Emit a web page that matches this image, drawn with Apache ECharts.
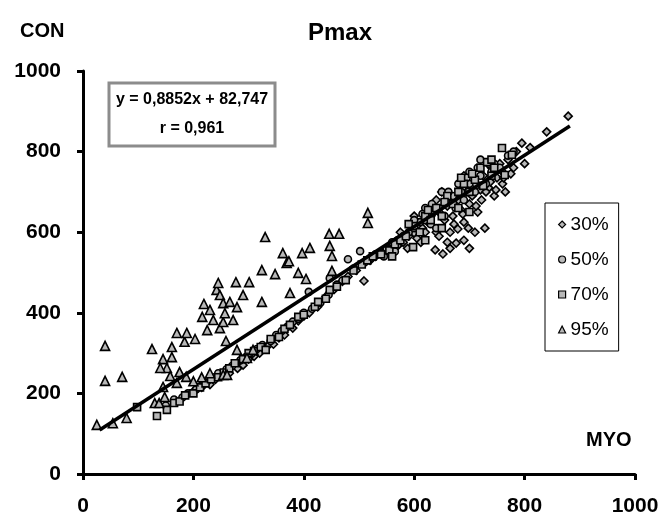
<!DOCTYPE html>
<html>
<head>
<meta charset="utf-8">
<title>Pmax</title>
<script src="https://cdn.jsdelivr.net/npm/echarts@6/dist/echarts.min.js"></script>
<style>
	html, body {margin: 0; padding: 0; background: #fff;}
	#main {width: 663px; height: 524px;}
</style>
</head>
<body>
<div id="main"></div>
<script>
// 数据 (MYO, CON)
var xTicks = [0, 200, 400, 600, 800, 1000];
var yTicks = [0, 200, 400, 600, 800, 1000];
var names = ['30%', '50%', '70%', '95%'];

var p30 = [[200,205],[215,215],[230,222],[240,235],[255,245],[265,250],[280,262],[290,270],[300,285],[310,292],
	[320,300],[335,318],[345,322],[355,338],[365,345],[380,362],[390,380],[400,392],[410,400],[425,415],
	[440,440],[455,458],[470,478],[480,490],[495,505],[509,479],[520,530],[530,540],[545,548],[555,556],
	[560,545],[570,566],[580,575],[590,590],[600,598],[605,585],[615,610],[620,600],[625,625],[630,640],
	[638,556],[640,600],[645,650],[652,546],[655,630],[660,665],[665,600],[670,640],[676,573],[679,608],
	[680,680],[685,655],[690,625],[695,700],[700,670],[705,690],[710,720],[715,650],[720,705],[725,740],
	[728,610],[735,710],[740,760],[745,690],[750,735],[755,770],[760,720],[765,700],[770,780],[775,745],
	[780,760],[785,800],[795,821],[800,770],[810,810],[840,849],[879,888],[690,580],[700,560],[665,560],
	[710,600],[730,700],[760,750],[600,640],[575,600],[640,680],[690,740],[650,700],[660,575],[645,590],
	[672,620],[688,645],[698,610],[712,665],[722,680],[738,725],[748,705],[762,735],[588,560],[612,575]];

var p50 = [[150,170],[165,185],[180,190],[190,200],[205,210],[215,220],[225,230],[235,240],[245,250],[260,260],
	[270,268],[285,282],[295,290],[305,298],[315,310],[325,320],[340,330],[350,345],[360,355],[370,365],
	[380,378],[390,385],[400,400],[409,452],[415,410],[430,425],[445,445],[447,486],[460,470],[470,480],
	[480,533],[490,510],[502,553],[510,525],[520,535],[530,545],[540,550],[550,560],[560,575],[570,580],
	[580,590],[590,600],[600,610],[610,625],[620,630],[630,620],[635,650],[645,660],[655,640],[660,680],
	[670,690],[675,660],[685,700],[690,680],[700,720],[710,700],[720,740],[730,720],[740,750],[745,770],
	[755,760],[770,790],[780,800],[620,660],[650,700],[700,750],[720,780],[600,630],[640,610],[680,720],
	[545,540],[565,552],[615,645],[632,670],[662,700],[695,735],[715,760],[735,770]];

var p70 = [[98,166],[134,144],[152,159],[165,176],[175,180],[185,195],[200,200],[212,215],[222,225],[232,235],
	[245,240],[255,252],[265,262],[275,275],[290,285],[300,300],[310,305],[322,315],[331,308],[340,335],
	[355,340],[365,360],[375,370],[390,390],[400,395],[420,415],[426,427],[440,435],[447,457],[460,465],
	[476,481],[490,505],[505,520],[515,530],[525,540],[540,545],[555,555],[565,570],[575,580],[585,590],
	[598,563],[600,615],[610,600],[620,640],[630,630],[640,660],[650,640],[660,690],[670,670],[680,700],
	[690,720],[700,700],[710,730],[720,760],[732,774],[740,740],[759,809],[764,742],[777,792],[650,610],
	[700,650],[620,580],[680,660],[740,780],[560,540],[590,620],[625,655],[655,675],[685,735],[705,745],
	[725,715],[745,760]];

var p95 = [[25,122],[40,318],[40,231],[54,126],[71,241],[79,139],[125,310],[130,176],[138,176],[145,285],
	[145,216],[148,191],[152,263],[140,263],[158,243],[161,315],[161,290],[170,350],[170,226],[175,253],
	[184,328],[187,241],[188,350],[203,335],[216,390],[219,422],[225,357],[230,407],[236,382],[242,457],
	[245,474],[248,444],[248,362],[254,424],[254,377],[254,246],[257,399],[259,330],[261,246],[266,427],
	[272,382],[277,476],[279,414],[279,308],[290,444],[297,288],[301,476],[308,308],[324,506],[324,427],
	[330,588],[348,496],[362,548],[369,524],[373,528],[375,449],[390,499],[397,548],[404,484],[411,561],
	[446,596],[447,566],[451,541],[451,504],[464,596],[516,648],[516,623],[200,230],[215,240],[230,250]];

// 回归线 y = 0,8852x + 82,747
var fitLine = [[30, 109.3], [882, 863.5]];

var font = 'Arial, "Liberation Sans", sans-serif';

var myChart = echarts.init(document.getElementById('main'));

function scatter(name, data, symbol, size) {
	return {
		name: name,
		type: 'scatter',
		data: data,
		symbol: symbol,
		symbolSize: size,
		itemStyle: {color: '#b8b8b8', borderColor: '#000', borderWidth: 1.6, opacity: 1}
	};
}

function plainLabel(v) {
	return String(v);
}

myChart.setOption({
	animation: false,
	title: {
		text: 'Pmax',
		left: 335,
		textAlign: 'center',
		top: 16,
		textStyle: {fontFamily: font, fontWeight: 'bold', fontSize: 24, color: '#000'}
	},
	grid: {left: 83, right: 28, top: 71, bottom: 50},
	legend: {
		data: names,
		orient: 'vertical',
		left: 545,
		top: 203,
		padding: [12, 10, 12, 13],
		itemGap: 16,
		itemWidth: 7,
		itemHeight: 7,
		itemStyle: {borderWidth: 1.2},
		borderColor: '#000',
		borderWidth: 1,
		backgroundColor: '#fff',
		textStyle: {fontFamily: font, fontSize: 19, color: '#000'}
	},
	xAxis: {
		type: 'value',
		min: xTicks[0],
		max: xTicks[xTicks.length - 1],
		interval: 200,
		splitLine: {show: false},
		axisLine: {onZero: false, lineStyle: {color: '#000', width: 3}},
		axisTick: {length: 6, lineStyle: {color: '#000', width: 3}},
		axisLabel: {margin: 22, formatter: plainLabel, fontFamily: font, fontWeight: 'bold', fontSize: 21, color: '#000'}
	},
	yAxis: {
		type: 'value',
		min: yTicks[0],
		max: yTicks[yTicks.length - 1],
		interval: 200,
		splitLine: {show: false},
		axisLine: {onZero: false, lineStyle: {color: '#000', width: 3}},
		axisTick: {length: 6, lineStyle: {color: '#000', width: 3}},
		axisLabel: {margin: 22, formatter: plainLabel, fontFamily: font, fontWeight: 'bold', fontSize: 21, color: '#000'}
	},
	graphic: [
		{type: 'text', left: 20, top: 21, style: {text: 'CON', font: 'bold 20px ' + font, fill: '#000'}},
		{type: 'text', left: 586, top: 430, style: {text: 'MYO', font: 'bold 20px ' + font, fill: '#000'}},
		{type: 'rect', shape: {x: 109, y: 83, width: 166, height: 63}, style: {fill: '#fff', stroke: '#8c8c8c', lineWidth: 3}, z: 10},
		{type: 'text', x: 192, y: 100, z: 11, style: {text: 'y = 0,8852x + 82,747', font: 'bold 16px ' + font, fill: '#000', align: 'center', verticalAlign: 'middle'}},
		{type: 'text', x: 192, y: 129, z: 11, style: {text: 'r = 0,961', font: 'bold 16px ' + font, fill: '#000', align: 'center', verticalAlign: 'middle'}}
	],
	series: [
		scatter(names[0], p30, 'diamond', 8),
		scatter(names[1], p50, 'circle', 7),
		scatter(names[2], p70, 'rect', 7),
		scatter(names[3], p95, 'triangle', 9),
		{
			type: 'line',
			data: fitLine,
			symbol: 'none',
			silent: true,
			z: 5,
			lineStyle: {color: '#000', width: 3.5}
		}
	]
});
</script>
</body>
</html>
